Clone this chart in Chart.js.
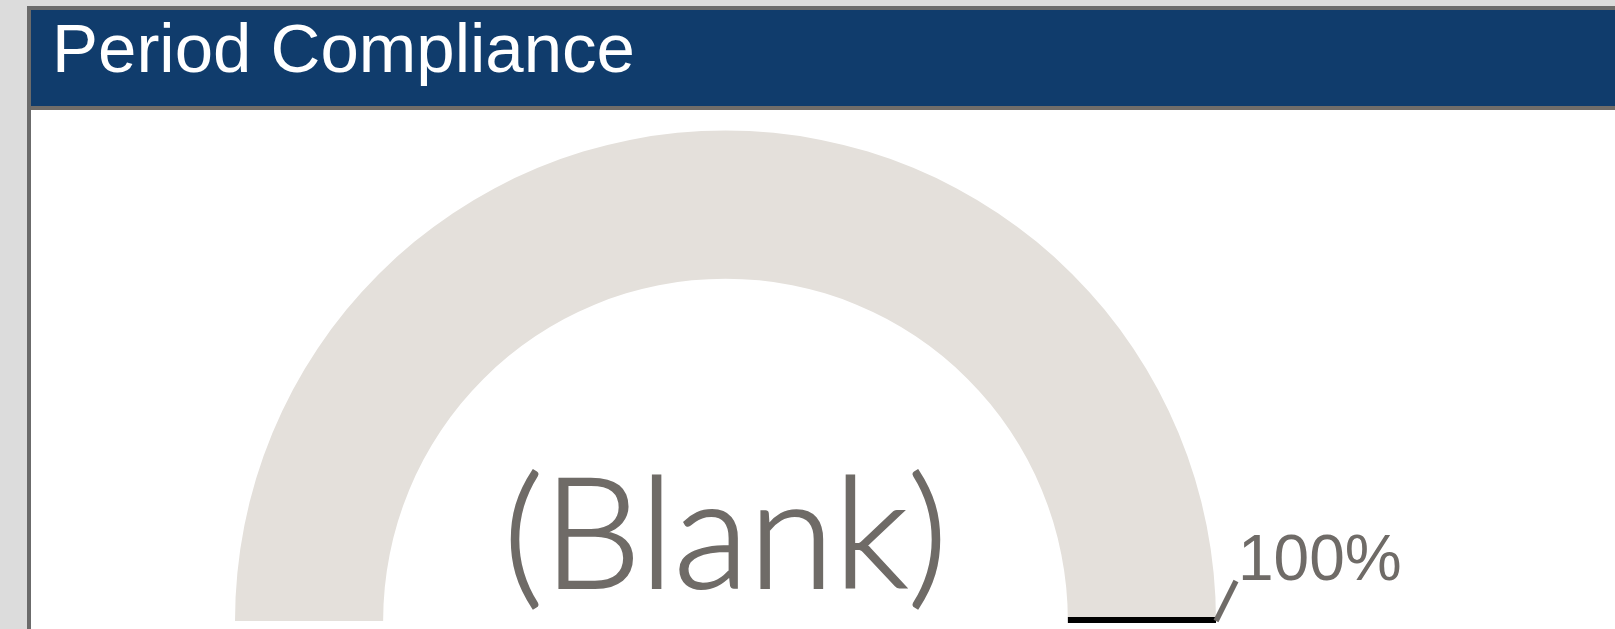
<!DOCTYPE html>
<html>
<head>
<meta charset="utf-8">
<script src="https://cdn.jsdelivr.net/npm/chart.js@4.4.1/dist/chart.umd.min.js"></script>
<style>
  body { margin: 0; background: #dcdcdc; width: 1615px; height: 629px; overflow: hidden; position: relative; }
  #frame { position: absolute; left: 27px; top: 6px; width: 1700px; height: 700px; border: 4px solid #6b6b6b; background: #fff; }
  #header { position: absolute; left: 0; top: 0; width: 100%; height: 96px; background: #103c6c; border-bottom: 4px solid #716d69; }
  #title { position: absolute; left: 21px; top: 4px; font-family: "Liberation Sans", Arial, sans-serif; font-size: 69px; line-height: 69px; color: #fff; white-space: nowrap; }
  #gauge { position: absolute; left: 0; top: 100px; }
</style>
</head>
<body>
<div id="frame">
  <div id="header"><span id="title">Period Compliance</span></div>
  <canvas id="gauge" width="1584" height="519"></canvas>
</div>
<script>
// gauge data
var segmentLabels = ['Compliance', 'Remaining'];
var segmentValues = [0, 1];          // value is blank, so nothing is filled
var gaugeRange = [0, 1];             // min, max
var targetValues = [1];
var targetLabels = ['100%'];
var centerLabels = ['(Blank)'];

var textGray = '#6f6b67';

// draws the target line, its label and the center text
var gaugeExtras = {
  id: 'gaugeExtras',
  afterDatasetsDraw: function (chart) {
    var ctx = chart.ctx;
    var arc = chart.getDatasetMeta(0).data[0];
    var cx = arc.x, cy = arc.y;
    var rIn = arc.innerRadius, rOut = arc.outerRadius;
    var start = arc.startAngle;

    for (var i = 0; i < targetValues.length; i++) {
      var frac = (targetValues[i] - gaugeRange[0]) / (gaugeRange[1] - gaugeRange[0]);
      var a = start + Math.PI * frac;
      ctx.save();
      ctx.strokeStyle = '#000';
      ctx.lineWidth = 6;
      ctx.beginPath();
      ctx.moveTo(cx + rIn * Math.cos(a), cy - 1 + rIn * Math.sin(a));
      ctx.lineTo(cx + rOut * Math.cos(a), cy - 1 + rOut * Math.sin(a));
      ctx.stroke();

      // leader line + label
      var lx = cx + rOut * Math.cos(a), ly = cy + rOut * Math.sin(a);
      ctx.strokeStyle = textGray;
      ctx.lineWidth = 5.5;
      ctx.beginPath();
      ctx.moveTo(lx, ly);
      ctx.lineTo(lx + 20, ly - 40);
      ctx.stroke();
      ctx.fillStyle = textGray;
      ctx.font = '64px "Liberation Sans", Arial, sans-serif';
      ctx.textAlign = 'left';
      ctx.textBaseline = 'alphabetic';
      ctx.fillText(targetLabels[i], lx + 22, ly - 41);
      ctx.restore();
    }

    ctx.save();
    ctx.fillStyle = textGray;
    ctx.strokeStyle = textGray;
    ctx.lineWidth = 2;
    ctx.font = '300 155px Lato, "Open Sans", sans-serif';
    ctx.textAlign = 'center';
    ctx.textBaseline = 'alphabetic';
    ctx.fillText(centerLabels[0], cx, cy - 33);
    ctx.strokeText(centerLabels[0], cx, cy - 33);
    ctx.restore();
  }
};

new Chart(document.getElementById('gauge').getContext('2d'), {
  type: 'doughnut',
  data: {
    labels: segmentLabels,
    datasets: [{
      data: segmentValues,
      backgroundColor: ['#103c6c', '#e4e0db'],
      borderWidth: 0
    }]
  },
  options: {
    responsive: false,
    animation: false,
    rotation: -90,
    circumference: 180,
    cutout: '69.8%',
    layout: { padding: { left: 204, top: 20.5, right: 399, bottom: 8 } },
    plugins: {
      legend: { display: false },
      tooltip: { enabled: false }
    }
  },
  plugins: [gaugeExtras]
});
</script>
</body>
</html>
